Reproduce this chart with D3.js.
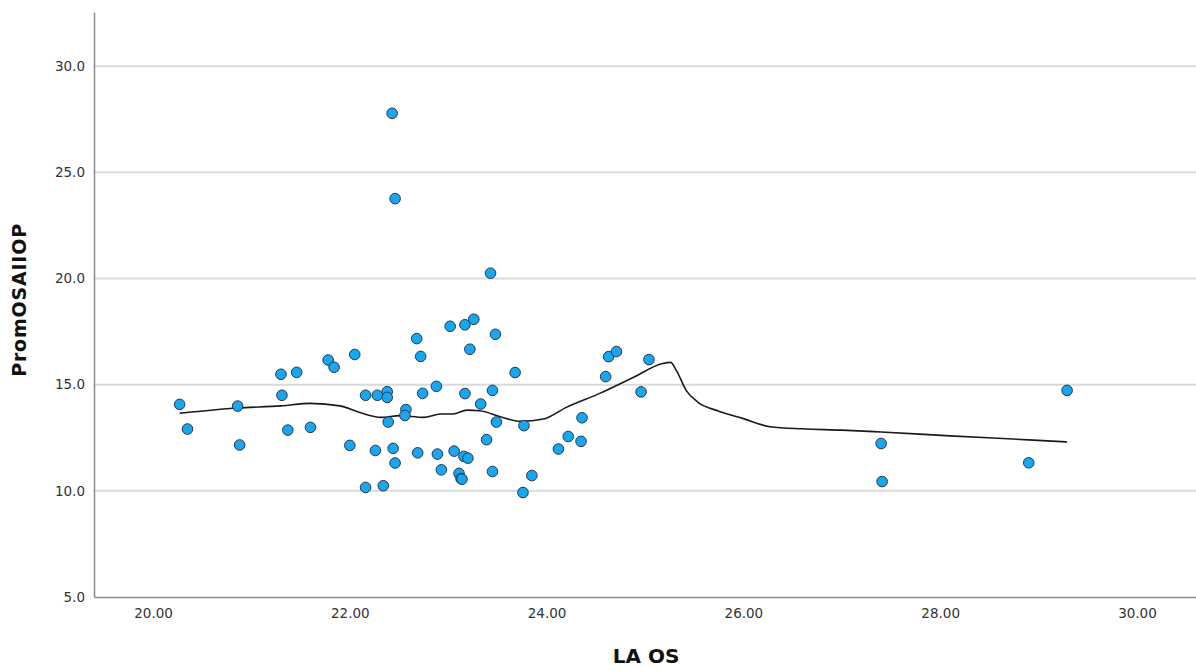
<!DOCTYPE html>
<html>
<head>
<meta charset="utf-8">
<script src="https://cdn.jsdelivr.net/npm/d3@7"></script>
<style>
  html, body { margin: 0; padding: 0; background: #fff; }
  svg { display: block; }
</style>
</head>
<body>
<svg id="chart" width="1196" height="671"></svg>
<script>
// ---- data ----
const laOS = [20.27, 20.35, 20.86, 20.88, 21.30, 21.46, 21.31, 21.37, 21.60, 21.78,
  21.84, 22.05, 22.00, 22.16, 22.28, 22.38, 22.38, 22.39, 22.26, 22.44,
  22.46, 22.16, 22.34, 22.57, 22.56, 22.68, 22.72, 22.74, 22.88, 23.02,
  22.69, 22.89, 22.93, 23.06, 23.11, 23.13, 23.14, 22.43, 22.46, 23.43,
  23.17, 23.26, 23.48, 23.22, 23.68, 23.17, 23.45, 23.33, 23.49, 23.77,
  23.39, 24.36, 24.22, 24.35, 24.12, 23.16, 23.20, 23.45, 23.85, 23.76,
  24.60, 24.63, 24.71, 25.04, 24.96, 27.40, 27.41, 28.90, 29.29];
const promOSAIIOP = [14.07, 12.91, 13.99, 12.16, 15.49, 15.58, 14.50, 12.86, 12.99, 16.16,
  15.82, 16.42, 12.14, 14.50, 14.50, 14.67, 14.40, 13.24, 11.90, 12.00,
  11.31, 10.16, 10.24, 13.83, 13.55, 17.17, 16.33, 14.59, 14.92, 17.75,
  11.79, 11.73, 10.99, 11.87, 10.82, 10.58, 10.55, 27.78, 23.76, 20.25,
  17.82, 18.08, 17.37, 16.67, 15.57, 14.58, 14.73, 14.09, 13.24, 13.07,
  12.41, 13.44, 12.56, 12.33, 11.97, 11.62, 11.54, 10.91, 10.72, 9.92,
  15.38, 16.32, 16.56, 16.18, 14.66, 12.23, 10.44, 11.32, 14.73];

const fitX = [20.27, 20.86, 21.30, 21.60, 21.90, 22.10, 22.32, 22.51, 22.75, 22.92,
  23.05, 23.19, 23.32, 23.53, 23.73, 23.97, 24.20, 24.54, 24.88, 25.18,
  25.26, 25.32, 25.42, 25.54, 25.75, 26.00, 26.27, 26.60, 27.00, 27.40,
  28.10, 28.90, 29.29];
const fitY = [13.65, 13.90, 14.00, 14.12, 14.00, 13.69, 13.46, 13.54, 13.46, 13.62,
  13.62, 13.80, 13.77, 13.49, 13.27, 13.38, 13.93, 14.59, 15.34, 16.00,
  16.05, 15.66, 14.72, 14.17, 13.75, 13.40, 13.02, 12.92, 12.86, 12.77,
  12.59, 12.40, 12.30];

const xTicks = [20, 22, 24, 26, 28, 30];
const yTicks = [5, 10, 15, 20, 25, 30];
const xTitle = "LA OS";
const yTitle = "PromOSAIIOP";

// ---- layout ----
const svg = d3.select("#chart");
const W = 1196, H = 671;
const mLeft = 94, mTop = 12, mRight = W, mBottom = 597;
const FONT = "DejaVu Sans, sans-serif";

const x = d3.scaleLinear().domain([19.4, 30.6]).range([mLeft, mRight]);
const y = d3.scaleLinear().domain([5, 32.55]).range([mBottom, mTop]);

// gridlines
svg.append("g")
  .selectAll("line")
  .data(yTicks.filter(d => d > 5))
  .join("line")
  .attr("x1", mLeft).attr("x2", mRight)
  .attr("y1", d => y(d)).attr("y2", d => y(d))
  .attr("stroke", "#dadada")
  .attr("stroke-width", 2);

// y axis
const yAxis = d3.axisLeft(y).tickValues(yTicks).tickFormat(d3.format(".1f")).tickSize(0).tickPadding(9);
const gy = svg.append("g").attr("transform", `translate(${mLeft},0)`).call(yAxis);
gy.select(".domain").attr("stroke", "#8a8a8a").attr("stroke-width", 1.5);
gy.selectAll("text").attr("font-family", FONT).attr("font-size", 13.5).attr("fill", "#333");

// x axis
const xAxis = d3.axisBottom(x).tickValues(xTicks).tickFormat(d3.format(".2f")).tickSize(0).tickPadding(11);
const gx = svg.append("g").attr("transform", `translate(0,${mBottom})`).call(xAxis);
gx.select(".domain").attr("stroke", "#8a8a8a").attr("stroke-width", 1.5);
gx.selectAll("text").attr("font-family", FONT).attr("font-size", 13.5).attr("fill", "#333");

// fit line
const fit = fitX.map((v, i) => [v, fitY[i]]);
svg.append("path")
  .datum(fit)
  .attr("fill", "none")
  .attr("stroke", "#1a1a1a")
  .attr("stroke-width", 1.6)
  .attr("d", d3.line().x(d => x(d[0])).y(d => y(d[1])).curve(d3.curveMonotoneX));

// points
const pts = laOS.map((v, i) => [v, promOSAIIOP[i]]);
svg.append("g")
  .selectAll("circle")
  .data(pts)
  .join("circle")
  .attr("cx", d => x(d[0]))
  .attr("cy", d => y(d[1]))
  .attr("r", 5.3)
  .attr("fill", "#19a6f0")
  .attr("stroke", "#23384a")
  .attr("stroke-width", 1);

// axis titles
svg.append("text")
  .attr("x", 646).attr("y", 663)
  .attr("text-anchor", "middle")
  .attr("font-family", FONT)
  .attr("font-size", 20).attr("font-weight", "bold").attr("fill", "#111")
  .text(xTitle);

svg.append("text")
  .attr("transform", `translate(26,300) rotate(-90)`)
  .attr("text-anchor", "middle")
  .attr("font-family", FONT)
  .attr("font-size", 19).attr("font-weight", "bold").attr("fill", "#111")
  .attr("letter-spacing", 0.8)
  .text(yTitle);
</script>
</body>
</html>
